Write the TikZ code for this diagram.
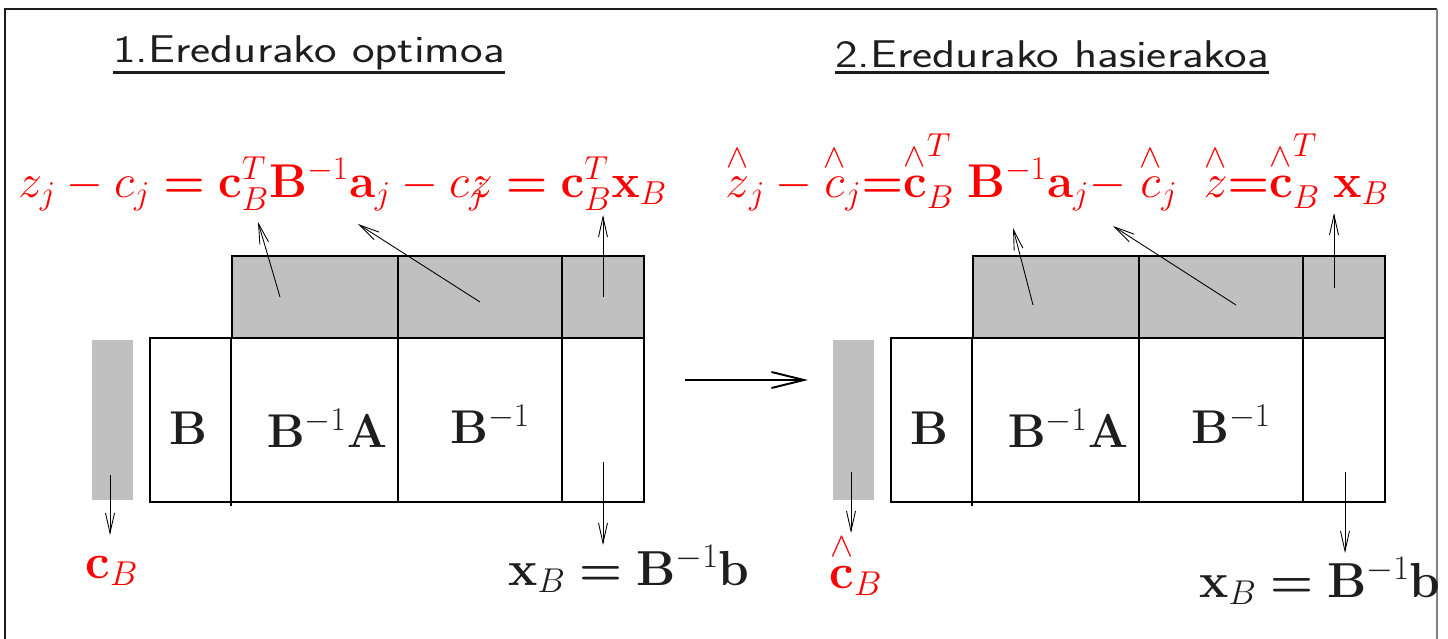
\documentclass[tikz,border=0pt]{standalone}
\usepackage{fix-cm}
\usepackage{graphicx}
\usepackage{amsmath, amssymb, mathtools}
\usepackage{tikz}
\usetikzlibrary{arrows.meta}
\definecolor{bandgray}{RGB}{192, 192, 192}
\definecolor{eqred}{RGB}{255, 0, 0}
\definecolor{inkdark}{RGB}{30, 30, 30}
\newcommand{\wedgeover}[1]{{\mathop{\kern0pt #1}\limits^{\scriptstyle\wedge}}}
\newcommand{\beq}{\boldsymbol{=}}
\newcommand{\widesf}[1]{\scalebox{1.24}[1]{#1}}

\begin{document}
\begin{tikzpicture}[x=0.02cm, y=-0.02cm,
  ptr/.style={-{Straight Barb[length=4mm, width=1.8mm]}, line width=0.5pt},
  bigptr/.style={-{Straight Barb[length=6.5mm, width=3.2mm]}, line width=1.1pt},
  title/.style={font=\fontsize{22}{26}\selectfont\sffamily, text=inkdark, inner sep=0pt, anchor=base west},
  eqn/.style={font=\fontsize{27}{30}\selectfont, text=eqred, inner sep=0pt, anchor=base west},
  cell/.style={font=\fontsize{27}{30}\selectfont, text=inkdark},
  lbl/.style={font=\fontsize{28}{32}\selectfont, inner sep=0pt, anchor=base}]
  \useasboundingbox (0,0) rectangle (1448,639);

  % Frame
  \draw[inkdark, line width=0.8pt] (5,639) -- (5,9) -- (1437,9);
  \draw[gray, line width=1.2pt] (1437,9) -- (1437,639);

  % Titles
  \node[title] (t1) at (113,62) {\widesf{1.Eredurako optimoa}};
  \node[title] (t2) at (835,67) {\widesf{2.Eredurako hasierakoa}};
  \draw[inkdark, line width=1.5pt] ([yshift=-6pt]t1.base west) -- ([yshift=-6pt]t1.base east);
  \draw[inkdark, line width=1.5pt] ([yshift=-3pt]t2.base west) -- ([yshift=-3pt]t2.base east);

  % Tableaux (left: optimal, right: initial)
  \foreach \dx/\side in {0/L, 741/R} {
    \begin{scope}[shift={(\dx,0)}]
      % cost column
      \fill[bandgray] (92,340) rectangle (133,500);
      % top band
      \fill[bandgray] (232,256) rectangle (644,338);
      \draw[line width=0.6pt] (232,256) rectangle (644,338);
      \draw[line width=0.6pt] (398,256) -- (398,338) (562,256) -- (562,338);
      % body
      \draw[line width=0.6pt] (150,338) rectangle (644,502);
      \draw[line width=0.6pt] (231,338) -- (231,506) (398,338) -- (398,502) (562,338) -- (562,502);
      \node[cell] (b\side)  at (188,428) {$\mathbf{B}$};
      \node[cell] (ba\side) at (327,428) {$\mathbf{B}^{-1}\mathbf{A}$};
      \node[cell] (bi\side) at (490,424) {$\mathbf{B}^{-1}$};
    \end{scope}
  }

  % Left equation
  \node[eqn] (eqL) at (18,197)
    {$z_j - c_j \beq \mathbf{c}_B^T\mathbf{B}^{-1}\mathbf{a}_j - c\mathrlap{{}_j}z \beq \mathbf{c}_B^T\mathbf{x}_B$};
  % Right equation
  \node[eqn] (eqR) at (725,197)
    {$\wedgeover{z}_j - \wedgeover{c}_j{\beq}\wedgeover{\mathbf{c}}^T_B\;\mathbf{B}^{-1}\mathbf{a}_j{-}\;\wedgeover{c}_j\;\;\wedgeover{z}{\beq}\wedgeover{\mathbf{c}}^T_B\;\mathbf{x}_B$};

  % Bottom labels
  \node[lbl, text=eqred] (cBL) at (112,578) {$\mathbf{c}_B$};
  \node[lbl, text=inkdark] (xBL) at (629,585) {$\mathbf{x}_B \beq \mathbf{B}^{-1}\mathbf{b}$};
  \node[lbl, text=eqred] (cBR) at (856,588) {$\wedgeover{\mathbf{c}}_B$};
  \node[lbl, text=inkdark] (xBR) at (1320,597) {$\mathbf{x}_B \beq \mathbf{B}^{-1}\mathbf{b}$};

  % Pointer ends
  \coordinate (p1) at (280,297);  \coordinate (q1) at (258,222);
  \coordinate (p2) at (480,302);  \coordinate (q2) at (358,224);
  \coordinate (p3) at (603,297);  \coordinate (q3) at (603,215);
  \coordinate (p4) at (110,475);  \coordinate (q4) at (110,535);
  \coordinate (p5) at (603,462);  \coordinate (q5) at (603,545);
  \coordinate (r1) at (1033,305); \coordinate (s1) at (1013,228);
  \coordinate (r2) at (1236,305); \coordinate (s2) at (1113,226);
  \coordinate (r3) at (1334,288); \coordinate (s3) at (1334,213);
  \coordinate (r4) at (851,472);  \coordinate (s4) at (851,533);
  \coordinate (r5) at (1345,472); \coordinate (s5) at (1345,553);
  \foreach \a/\b in {p1/q1, p2/q2, p3/q3, p4/q4, p5/q5, r1/s1, r2/s2, r3/s3, r4/s4, r5/s5}
    \draw[ptr] (\a) -- (\b);

  % Change of model
  \coordinate (m1) at (685,380);
  \coordinate (m2) at (808,380);
  \draw[bigptr] (m1) -- (m2);
\end{tikzpicture}
\end{document}
